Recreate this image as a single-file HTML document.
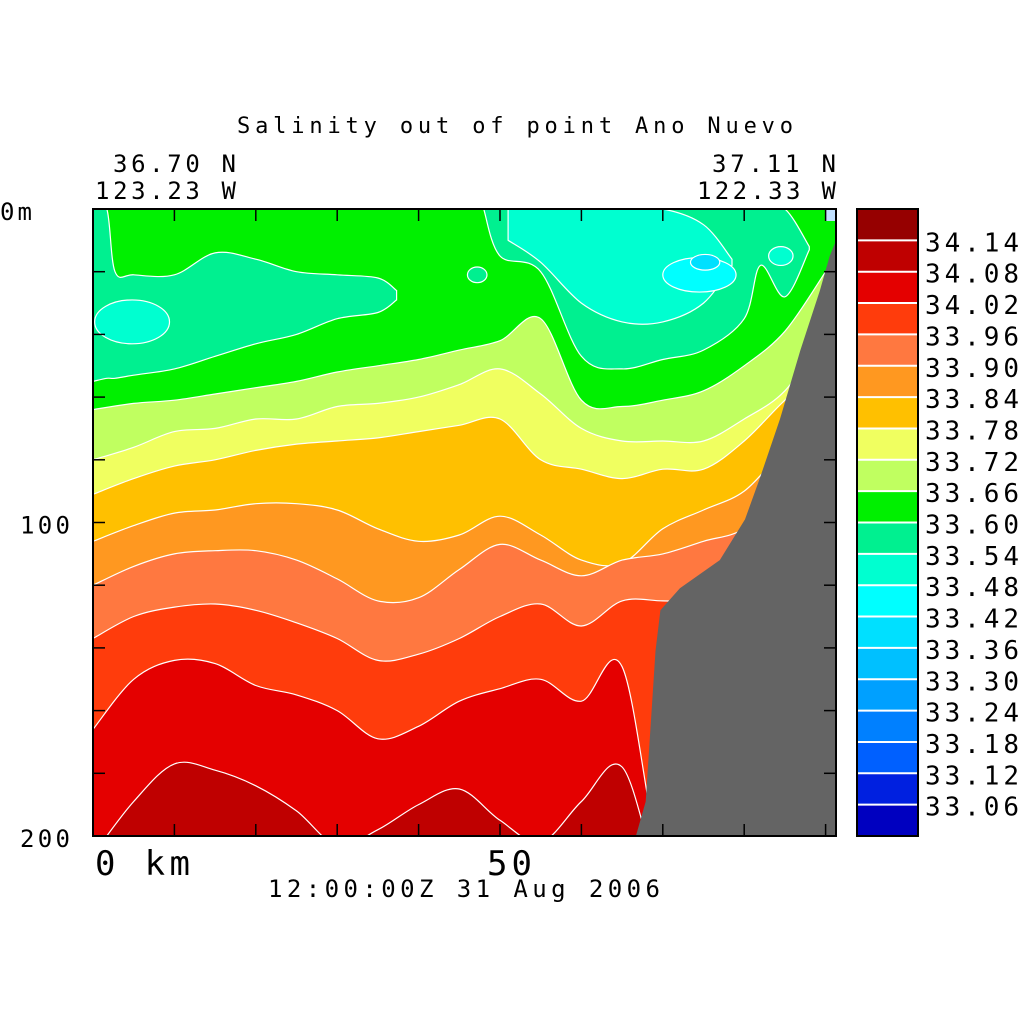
<!DOCTYPE html>
<html><head><meta charset="utf-8"><style>
html,body{margin:0;padding:0;background:#fff;}
svg text{font-family:"DejaVu Sans Mono","Liberation Mono",monospace;fill:#000;}
</style></head><body>
<svg id="chart" width="1024" height="1024" viewBox="0 0 1024 1024" xmlns="http://www.w3.org/2000/svg">
<defs><clipPath id="plotclip"><rect x="93" y="209" width="743" height="627"/></clipPath></defs>
<rect width="1024" height="1024" fill="#fff"/>
<text x="237" y="133" font-size="22" textLength="556" lengthAdjust="spacing">Salinity out of point Ano Nuevo</text>
<text x="113" y="172" font-size="24" textLength="123" lengthAdjust="spacing">36.70 N</text>
<text x="95" y="199" font-size="24" textLength="141" lengthAdjust="spacing">123.23 W</text>
<text x="712" y="172" font-size="24" textLength="124" lengthAdjust="spacing">37.11 N</text>
<text x="697" y="199" font-size="24" textLength="139" lengthAdjust="spacing">122.33 W</text>
<text x="268" y="897" font-size="24" textLength="392" lengthAdjust="spacing">12:00:00Z  31 Aug 2006</text>
<g id="plot" clip-path="url(#plotclip)"></g>
<g id="axes"></g>
<g id="cbar"></g>
</svg>
<script>
// ---- data ----
const levelKm = [0,5,10,15,20,25,30,35,40,45,50,55,60,65,70,75,80,85,90];
const line3366 = [64,62,61,59,57,55,52,50,48,45,42,35,61,63,61,58,50,39,20];
const line3372 = [80,76,71,70,67,67,63,62,60,56,51,59,70,74,74,74,67,58,40];
const line3378 = [91,86,82,80,77,75,74,73,71,69,67,80,83,86,83,83,74,61,50];
const line3384 = [106,101,97,96,94,94,96,102,106,104,98,104,112,113,102,96,90,77,70];
const line3390 = [120,114,110,109,109,112,118,125,124,115,107,112,117,112,110,106,102,90,90];
const line3396 = [137,130,127,126,128,132,137,144,142,137,130,126,133,125,125,125,120,120,120];
const line3402 = [166,150,144,145,152,155,160,169,165,157,153,150,157,146,210,210,210,210,210];
const line3408 = [206,189,177,179,184,192,203,198,190,185,195,202,189,178,215,215,215,215,215];
const bandColors = ["#c0ff60","#f0ff60","#ffc000","#ff9820","#ff7840","#ff3c0c","#e40000","#bf0000"];

const tealLeftKm = [0,1.7,2.7,5,10,15,20,25,30,35,37.3];
const tealLeftTop = [0,0,20,21,21,14,16,20,21,22,26];
const tealLeftBottom = [55,54,54,53,51,47,43,40,35,33,29];
const tealRightKm = [48,50,55,60,65,70,75,80,82,85,88];
const tealRightTop = [0,0,0,0,0,0,0,0,0,0,12];
const tealRightBottom = [0,15,20,47,51,48,45,35,18,28,13];
const turqKm = [51,55,60,65,70,75,78.5];
const turqTop = [0,0,0,0,0,5,16];
const turqBottom = [10,17,30,36,36,30,18];

const islandKm = [4.8, 74.5, 75.2, 47.2, 84.5];
const islandDepth = [36, 21, 17, 21, 15];
const islandRkm = [4.6, 4.5, 1.8, 1.2, 1.5];
const islandRdepth = [7, 5.5, 2.5, 2.5, 3];
const islandColor = ["#00ffd0","#00ffff","#00e0ff","#00f090","#00ffd0"];

const bathyKm = [66.7,67.9,69.1,69.7,72.1,77.0,80.1,81.9,84.4,86.9,89.3,90.5,91.3];
const bathyDepth = [200,189,141,128,121,112,99,86,67,45,26,15,10];

const cbarLabels = ["34.14","34.08","34.02","33.96","33.90","33.84","33.78","33.72","33.66","33.60","33.54","33.48","33.42","33.36","33.30","33.24","33.18","33.12","33.06"];
const cbarColors = ["#960000","#bf0000","#e40000","#ff3c0c","#ff7840","#ff9820","#ffc000","#f0ff60","#c0ff60","#00f000","#00f090","#00ffd0","#00ffff","#00e0ff","#00c0ff","#00a0ff","#0080ff","#0060ff","#0020e0","#0000c0"];
const depthTicks = [0,20,40,60,80,100,120,140,160,180,200];
const depthLabels = ["0m","100","200"];
const depthLabelVals = [0,100,200];
const kmTicks = [10,20,30,40,50,60,70,80,90];

// ---- scales ----
const X0=93, X1=836, Y0=209, Y1=836;
const sx = km => X0 + km*8.14;
const sy = d => Y0 + d*(Y1-Y0)/200;
const NS="http://www.w3.org/2000/svg";
function mk(tag, attrs, parent){const e=document.createElementNS(NS,tag);for(const k in attrs)e.setAttribute(k,attrs[k]);parent.appendChild(e);return e;}
function pts(kms, ds){return kms.map((k,i)=>[sx(k),sy(ds[i])]);}
function smooth(p, startMove){
  let s = (startMove?"M":"L")+p[0][0].toFixed(1)+","+p[0][1].toFixed(1);
  for(let i=0;i<p.length-1;i++){
    const p0=p[Math.max(0,i-1)],p1=p[i],p2=p[i+1],p3=p[Math.min(p.length-1,i+2)];
    const c1=[p1[0]+(p2[0]-p0[0])/6,p1[1]+(p2[1]-p0[1])/6];
    const c2=[p2[0]-(p3[0]-p1[0])/6,p2[1]-(p3[1]-p1[1])/6];
    s+=" C"+c1.map(v=>v.toFixed(1)).join(",")+" "+c2.map(v=>v.toFixed(1)).join(",")+" "+p2[0].toFixed(1)+","+p2[1].toFixed(1);
  }
  return s;
}
const plot=document.getElementById('plot');
const axes=document.getElementById('axes');
const cbar=document.getElementById('cbar');

const bg=mk('rect',{x:X0,y:Y0,width:X1-X0,height:Y1-Y0,fill:"#00f000"},plot);



function patch(kms, top, bot, color, name){
  const pt=pts(kms,top), pb=pts(kms,bot).reverse();
  const d=smooth(pt,true)+" "+smooth(pb,false)+" Z";
  const e=mk('path',{d:d,fill:color,stroke:"#fff","stroke-width":1.2},plot);
  
  
}
patch(tealLeftKm,tealLeftTop,tealLeftBottom,"#00f090","band-33-54-left");
patch(tealRightKm,tealRightTop,tealRightBottom,"#00f090","band-33-54-right");
patch(turqKm,turqTop,turqBottom,"#00ffd0","band-33-48-core");
islandKm.forEach((k,i)=>{
  const e=mk('ellipse',{cx:sx(k),cy:sy(islandDepth[i]),rx:islandRkm[i]*8.14,ry:islandRdepth[i]*627/200,fill:islandColor[i],stroke:"#fff","stroke-width":1.2},plot);
  
  
});

const lines=[line3366,line3372,line3378,line3384,line3390,line3396,line3402,line3408];
lines.forEach((ln,i)=>{
  const p=pts(levelKm,ln);
  const d=smooth(p,true)+` L${X1+20},${p[p.length-1][1]} L${X1+20},${Y1+40} L${X0-20},${Y1+40} L${X0-20},${p[0][1]} Z`;
  const e=mk('path',{d:d,fill:bandColors[i]},plot);
  
  
  const c=mk('path',{d:smooth(p,true),fill:"none",stroke:"#fff","stroke-width":1.2},plot);
  
  
});

{
  let d=`M${sx(bathyKm[0])},${sy(bathyDepth[0])}`;
  bathyKm.forEach((k,i)=>{d+=` L${sx(k).toFixed(1)},${sy(bathyDepth[i]).toFixed(1)}`;});
  d+=` L${X1+5},${sy(0)-5} L${X1+5},${Y1+5} L${sx(bathyKm[0])},${Y1+5} Z`;
  const e=mk('path',{d:d,fill:"#646464"},plot);
  
  
}
const corner=mk('rect',{x:826,y:209,width:10,height:12,fill:"#c0e0ff"},plot);



const fr=mk('rect',{x:X0,y:Y0,width:X1-X0,height:Y1-Y0,fill:"none",stroke:"#000","stroke-width":2},axes);


depthTicks.forEach(d=>{
  const t1=mk('line',{x1:X0,x2:X0+12,y1:sy(d),y2:sy(d),stroke:"#000","stroke-width":1.5},axes);
  
  
  const t2=mk('line',{x1:X1-12,x2:X1,y1:sy(d),y2:sy(d),stroke:"#000","stroke-width":1.5},axes);
  
  
});
kmTicks.forEach(k=>{
  const t1=mk('line',{x1:sx(k),x2:sx(k),y1:Y0,y2:Y0+12,stroke:"#000","stroke-width":1.5},axes);
  
  
  const t2=mk('line',{x1:sx(k),x2:sx(k),y1:Y1-12,y2:Y1,stroke:"#000","stroke-width":1.5},axes);
  
  
});
depthLabels.forEach((lab,i)=>{
  const isTop=i===0;
  const t=mk('text',{x:isTop?0:20,y:sy(depthLabelVals[i])+11,"font-size":24,textLength:isTop?32:50,lengthAdjust:"spacing"},axes);
  t.textContent=lab;
  
  
});
{
  const t=mk('text',{x:95,y:875,"font-size":34,textLength:95,lengthAdjust:"spacing"},axes);
  t.textContent="0 km";
  
  
  const t2=mk('text',{x:487,y:875,"font-size":34,textLength:45,lengthAdjust:"spacing"},axes);
  t2.textContent="50";
  
  
}

const CB0=857, CB1=918, bh=(Y1-Y0)/cbarColors.length;
cbarColors.forEach((c,i)=>{
  const r=mk('rect',{x:CB0,y:Y0+i*bh,width:CB1-CB0,height:bh+0.5,fill:c},cbar);
  
  
});
cbarLabels.forEach((lab,i)=>{
  const y=Y0+(i+1)*bh;
  const l=mk('line',{x1:CB0,x2:CB1,y1:y,y2:y,stroke:"#fff","stroke-width":2},cbar);
  
  
  const t=mk('text',{x:925,y:y+11,"font-size":26,textLength:94,lengthAdjust:"spacing"},cbar);
  t.textContent=lab;
  
  
});
const cf=mk('rect',{x:CB0,y:Y0,width:CB1-CB0,height:Y1-Y0,fill:"none",stroke:"#000","stroke-width":2},cbar);


</script>
</body></html>
